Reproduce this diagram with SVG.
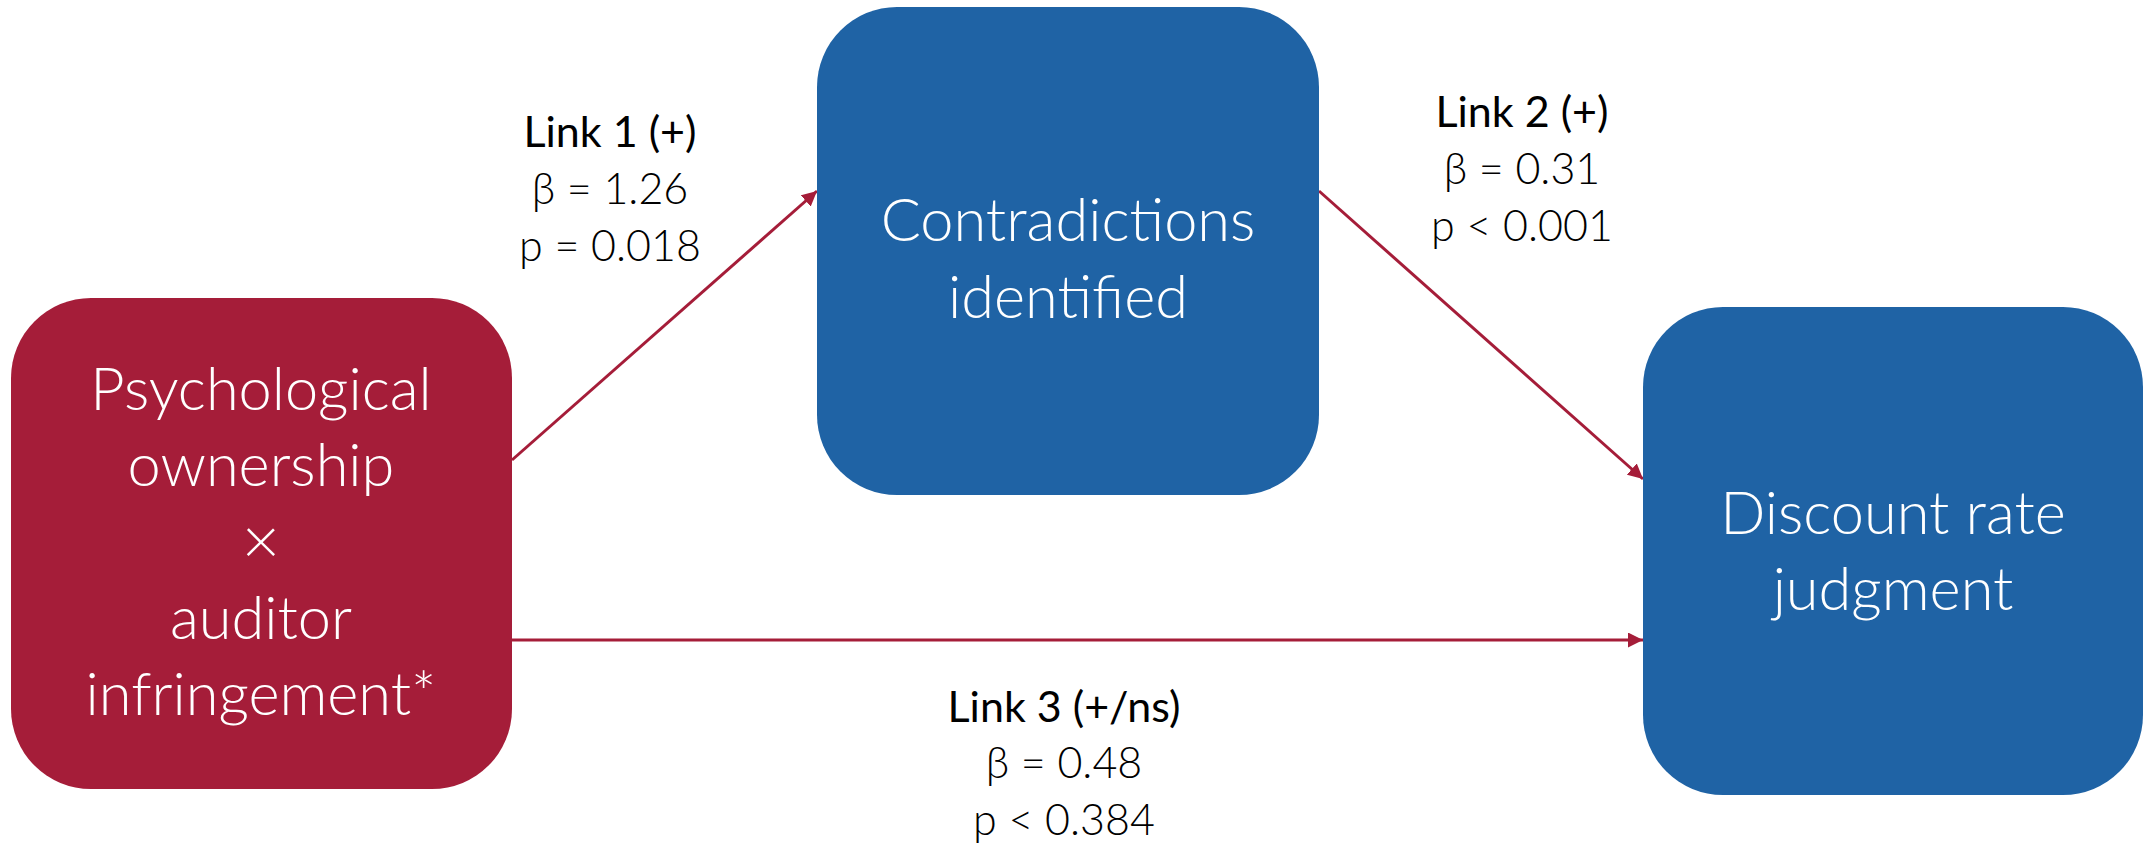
<svg xmlns="http://www.w3.org/2000/svg" width="2143" height="845" viewBox="0 0 2143 845">
<defs>
<marker id="ah" markerWidth="5" markerHeight="5" refX="5" refY="2.5" orient="auto" markerUnits="strokeWidth">
<path d="M0,0 L5,2.5 L0,5 Z" fill="#A51D39"/>
</marker>
<style>
.node-red{fill:#A51D39}
.node-blue{fill:#1F63A5}
.nt{font-family:Lato,"Liberation Sans",sans-serif;font-weight:300;font-size:59.5px;fill:#FFFFFF;text-anchor:middle}
.lh{font-family:Lato,"Liberation Sans",sans-serif;font-weight:400;font-size:43px;fill:#000000;text-anchor:middle}
.lv{font-family:Lato,"Liberation Sans",sans-serif;font-weight:300;font-size:43px;fill:#000000;text-anchor:middle}
.conn{stroke:#A51D39;stroke-width:3;fill:none;marker-end:url(#ah)}
</style>
</defs>
<rect width="2143" height="845" fill="#FFFFFF"/>
<g id="connectors">
<line class="conn" x1="512" y1="460" x2="817" y2="191"/>
<line class="conn" x1="1319" y1="191" x2="1643" y2="479"/>
<line class="conn" x1="512" y1="640" x2="1643" y2="640"/>
</g>
<g id="node-psych">
<rect class="node-red" x="11" y="298" width="501" height="491" rx="80" ry="80"/>
<text class="nt" x="261" y="410">Psychological</text>
<text class="nt" x="261" y="486">ownership</text>
<text class="nt" x="261" y="564" style="font-size:66px">×</text>
<text class="nt" x="261" y="639">auditor</text>
<text class="nt" x="261" y="715">infringement*</text>
</g>
<g id="node-contra">
<rect class="node-blue" x="817" y="7" width="502" height="488" rx="80" ry="80"/>
<text class="nt" x="1068" y="241">Contradictions</text>
<text class="nt" x="1068" y="318">identified</text>
</g>
<g id="node-discount">
<rect class="node-blue" x="1643" y="307" width="500" height="488" rx="80" ry="80"/>
<text class="nt" x="1893" y="534">Discount rate</text>
<text class="nt" x="1893" y="610">judgment</text>
</g>
<g id="label-link1">
<text class="lh" x="610" y="147">Link 1 (+)</text>
<text class="lv" x="610" y="204">β = 1.26</text>
<text class="lv" x="610" y="261">p = 0.018</text>
</g>
<g id="label-link2">
<text class="lh" x="1522" y="127">Link 2 (+)</text>
<text class="lv" x="1522" y="184">β = 0.31</text>
<text class="lv" x="1522" y="241">p &lt; 0.001</text>
</g>
<g id="label-link3">
<text class="lh" x="1064" y="722">Link 3 (+/ns)</text>
<text class="lv" x="1064" y="778">β = 0.48</text>
<text class="lv" x="1064" y="835">p &lt; 0.384</text>
</g>
</svg>
